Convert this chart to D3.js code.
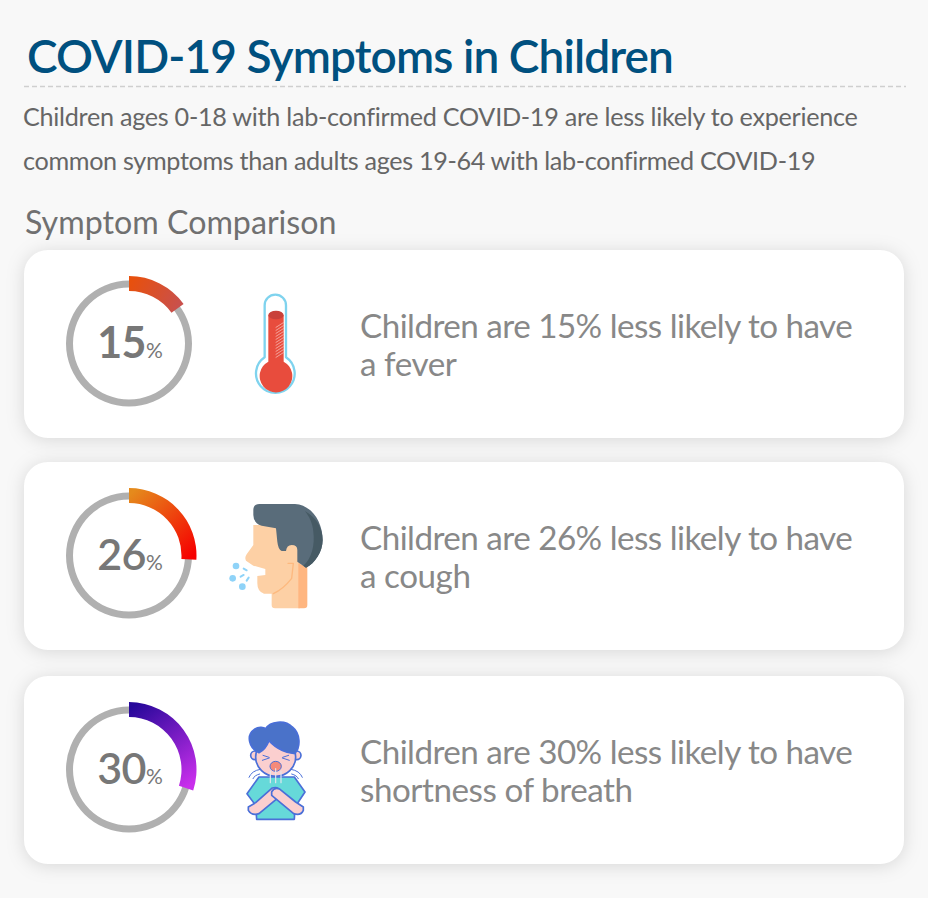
<!DOCTYPE html>
<html>
<head>
<meta charset="utf-8">
<style>
html, body { margin: 0; padding: 0; background: #f8f8f8; }
svg { display: block; }
text { font-family: Lato, "Open Sans", sans-serif; }
.card { filter: drop-shadow(0 2px 9px rgba(0,0,0,.13)); }
</style>
<script src="https://cdn.jsdelivr.net/npm/d3@7"></script>
</head>
<body>
<div id="chart"></div>
<script>
// chart values
var symptoms = ['fever', 'cough', 'breath']
var percents = [15, 26, 30]
var lineOne = ['Children are 15% less likely to have', 'Children are 26% less likely to have', 'Children are 30% less likely to have']
var lineTwo = ['a fever', 'a cough', 'shortness of breath']
var gradFrom = ['#e8500c', '#e58a1c', '#27089a']
var gradTo = ['#c9504c', '#f60000', '#c92fec']
var title = 'COVID-19 Symptoms in Children'
var subtitle = ['Children ages 0-18 with lab-confirmed COVID-19 are less likely to experience',
  'common symptoms than adults ages 19-64 with lab-confirmed COVID-19']
var heading = 'Symptom Comparison'

var width = 928, height = 898
var cardTop = [250, 462, 676]
var cardH = 188

var svg = d3.select('#chart').append('svg').attr('width', width).attr('height', height)
var defs = svg.append('defs')

svg.append('text').attr('x', 27).attr('y', 73)
  .attr('font-size', 46).attr('font-weight', 600).attr('fill', '#00507f').attr('letter-spacing', -0.9).text(title)

svg.append('line').attr('x1', 24).attr('x2', 906).attr('y1', 86.5).attr('y2', 86.5)
  .attr('stroke', '#cfcfcf').attr('stroke-width', 1.5).attr('stroke-dasharray', '5 3')

svg.selectAll('text.sub').data(subtitle).join('text').attr('class', 'sub')
  .attr('x', 23).attr('y', function(d, i){ return 126 + i * 44 })
  .attr('font-size', 25.2).attr('fill', '#666')
  .attr('letter-spacing', function(d, i){ return i == 0 ? -0.28 : -0.34 })
  .text(function(d){ return d })

svg.append('text').attr('x', 25).attr('y', 234).attr('font-size', 32.2).attr('fill', '#707070').text(heading)

/*
* Cards with ring, icon and text
*/
var angle = d3.scaleLinear().domain([0, 100]).range([0, 2 * Math.PI])
var ring = d3.arc().innerRadius(56).outerRadius(63).startAngle(0).endAngle(2 * Math.PI)
var slice = d3.arc().innerRadius(52.5).outerRadius(67.5).startAngle(0)

var cards = svg.selectAll('g.row').data(percents).join('g').attr('class', 'row')
  .attr('transform', function(d, i){ return 'translate(0,' + cardTop[i] + ')' })

cards.append('rect').attr('class', 'card').attr('x', 24).attr('y', 0).attr('width', 880).attr('height', cardH)
  .attr('rx', 24).attr('fill', '#fff')

var gauge = cards.append('g').attr('transform', 'translate(129,93.6)')

gauge.append('path').attr('d', ring()).attr('fill', '#b0b0b0')

percents.forEach(function(p, i){
  var end = angle(p)
  var g = defs.append('linearGradient').attr('id', 'grad' + i).attr('gradientUnits', 'userSpaceOnUse')
    .attr('x1', 0).attr('y1', -60)
    .attr('x2', Math.sin(end) * 60).attr('y2', -Math.cos(end) * 60)
  g.append('stop').attr('offset', 0).attr('stop-color', gradFrom[i])
  g.append('stop').attr('offset', 1).attr('stop-color', gradTo[i])
})

gauge.append('path')
  .attr('d', function(d){ return slice({ endAngle: angle(d) }) })
  .attr('fill', function(d, i){ return 'url(#grad' + i + ')' })

var label = gauge.append('text').attr('x', 1).attr('y', 14).attr('text-anchor', 'middle')
  .attr('fill', '#777').attr('font-size', 43)
  .attr('font-weight', function(d, i){ return i == 0 ? 700 : 600 })
label.append('tspan').attr('letter-spacing', -0.5).text(function(d){ return d })
label.append('tspan').attr('font-size', 21).attr('font-weight', 400).text('%')

cards.append('text').attr('x', 360).attr('y', 88).attr('font-size', 33.2).attr('fill', '#888').attr('letter-spacing', -0.52)
  .text(function(d, i){ return lineOne[i] })
cards.append('text').attr('x', 360).attr('y', 126).attr('font-size', 33.2).attr('fill', '#888').attr('letter-spacing', -0.45)
  .text(function(d, i){ return lineTwo[i] })

/*
* Icons, drawn in zoomed pixel units (1/3 px)
*/
function icon(i, x, y) {
  return svg.append('g').attr('class', 'icon-' + symptoms[i]).attr('transform', 'translate(' + x + ',' + y + ') scale(0.3333)')
}
function shape(g, d, fill, stroke, sw) {
  return g.append('path').attr('d', d).attr('fill', fill || 'none')
    .attr('stroke', stroke || 'none').attr('stroke-width', sw || 0)
    .attr('stroke-linecap', 'round').attr('stroke-linejoin', 'round')
}

// thermometer
var th = icon(0, 240, 280)
shape(th, 'M74,232 L74,76 A32,32 0 0 1 138,76 L138,232 A58,58 0 1 1 74,232 Z', '#fff', '#7fd3ee', 7)
shape(th, 'M85,105 L85,245 A49,49 0 1 0 131,245 L131,105 Z', '#e84c3d')
th.append('ellipse').attr('cx', 108).attr('cy', 105).attr('rx', 23).attr('ry', 13).attr('fill', '#c9413a')
d3.range(11).forEach(function(n){
  shape(th, 'M108,' + (142 + n * 9) + ' L130,' + (128 + n * 9), null, '#f4b5ad', 2.5)
})

// coughing head
var hd = icon(1, 220, 495)
shape(hd, 'M100,90 L240,90 L240,210 L240,340 L165,340 Q155,340 155,330 L155,296 L132,296 Q112,290 112,265 L112,243 L136,240 L136,222 L100,212 L78,197 Q73,188 80,178 L100,150 Z', '#fdd0a5')
shape(hd, 'M235,205 L262,215 L262,330 Q262,340 252,340 L235,340 Z', '#ffb680')
shape(hd, 'M118,27 L225,27 C275,30 308,80 308,135 C308,170 285,205 258,218 L232,200 L232,165 Q232,150 215,150 Q200,150 198,168 L185,168 Q175,165 172,140 L168,100 L125,92 Q100,85 100,60 L100,45 Q100,27 118,27 Z', '#596c7a')
shape(hd, 'M255,48 C290,68 308,100 308,135 C308,170 285,205 258,218 L250,212 C275,190 285,150 280,110 C278,85 268,65 255,48 Z', '#465a64')
shape(hd, 'M204,205 L220,205 L215,250 Q190,282 160,296', null, '#fdb97f', 4)
hd.selectAll('circle').data([[48, 213, 10], [38, 250, 10], [67, 275, 10]]).join('circle')
  .attr('cx', function(d){ return d[0] }).attr('cy', function(d){ return d[1] }).attr('r', function(d){ return d[2] })
  .attr('fill', '#8fd3f8')
shape(hd, 'M71,221 L80,226', null, '#8fd3f8', 6)
shape(hd, 'M62,245 L71,240', null, '#8fd3f8', 6)
shape(hd, 'M80,257 L86,248', null, '#8fd3f8', 6)

// short of breath boy
var bo = icon(2, 235, 712)
var blue = '#4a6fd8'
shape(bo, 'M36,245 L72,195 L178,195 L210,240 L180,285 L178,322 L65,322 L62,280 Z', '#66d9d9', blue, 5)
shape(bo, 'M40,285 L62,272 L112,228 Q130,222 138,240 L138,250 L72,305 Q50,312 40,295 Z', '#fbcfcf', blue, 5)
shape(bo, 'M205,285 L182,270 L135,232 Q118,224 110,240 L110,250 L176,305 Q198,312 205,295 Z', '#fbcfcf', blue, 5)
bo.selectAll('circle').data([[60, 130], [185, 130]]).join('circle')
  .attr('cx', function(d){ return d[0] }).attr('cy', function(d){ return d[1] }).attr('r', 13)
  .attr('fill', '#fbcfcf').attr('stroke', blue).attr('stroke-width', 5)
bo.append('ellipse').attr('cx', 122).attr('cy', 135).attr('rx', 60).attr('ry', 58)
  .attr('fill', '#fbcfcf').attr('stroke', blue).attr('stroke-width', 5)
shape(bo, 'M72,122 C42,108 32,70 58,52 C70,44 85,44 92,50 C105,28 150,22 172,45 C197,65 197,105 180,124 C160,126 125,112 102,86 C95,104 85,116 72,122 Z', '#4a72c9', blue, 5)
shape(bo, 'M82,145 L103,138 M84,130 L102,136 M142,138 L163,145 M143,136 L161,130', null, blue, 3)
bo.append('ellipse').attr('cx', 122).attr('cy', 163).attr('rx', 17).attr('ry', 15).attr('fill', '#f58a7a').attr('stroke', blue).attr('stroke-width', 3)
shape(bo, 'M106,178 L106,212 M122,170 L122,212 M138,178 L138,212', null, '#e4e6ee', 3.5)
shape(bo, 'M42,196 Q50,176 76,172 M54,200 Q58,190 74,186 M202,196 Q194,176 168,172 M190,200 Q186,190 170,186', null, blue, 3)
</script>
</body>
</html>
